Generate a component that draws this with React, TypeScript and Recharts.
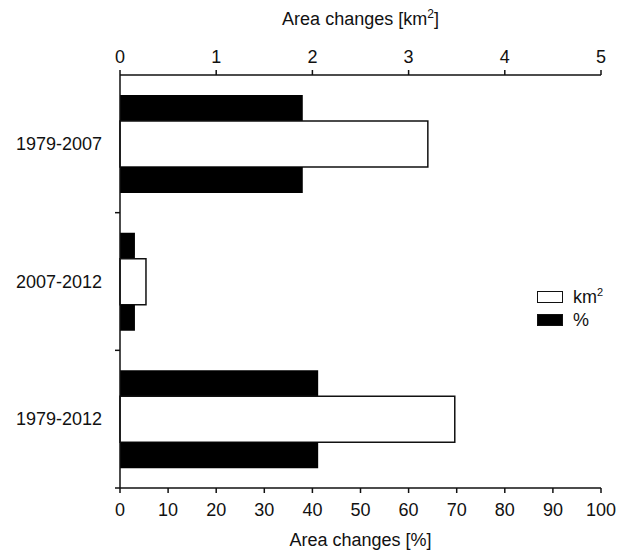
import React from "react";
import { BarChart, Bar, XAxis, YAxis } from "recharts";

const periods = ["1979-2007", "2007-2012", "1979-2012"];
const pctChange = [38, 3.1, 41.2];
const kmChange = [3.2, 0.27, 3.48];
const pctTicks = [0, 10, 20, 30, 40, 50, 60, 70, 80, 90, 100];
const kmTicks = [0, 1, 2, 3, 4, 5];

// the % bar is drawn on both sides of the km² bar, so it needs two keys
const data = periods.map((p, i) => ({
  period: p,
  pctTop: pctChange[i],
  km: kmChange[i],
  pctBottom: pctChange[i],
}));

const FONT = 'Arial, "Liberation Sans", Helvetica, sans-serif';
const INK = "#111";

function PeriodTick(props: any) {
  const { x, y, payload } = props;
  const off = payload.offset ?? 0;
  return (
    <g>
      <text x={x} y={y} dy={6} textAnchor="end" fontSize={18} fill={INK} fontFamily={FONT}>
        {payload.value}
      </text>
      {/* tick sits on the band boundary, not the label */}
      <line x1={x + 13} x2={x + 18} y1={y + off} y2={y + off} stroke={INK} strokeWidth={1.5} />
    </g>
  );
}

function TopTitle(props: any) {
  const vb = props.viewBox;
  return (
    <text x={vb.x + vb.width / 2} y={vb.y + 25} textAnchor="middle" fontSize={18} fill={INK} fontFamily={FONT}>
      <tspan>Area changes [km</tspan>
      <tspan dy={-7} fontSize={12}>2</tspan>
      <tspan dy={7}>]</tspan>
    </text>
  );
}

function BottomTitle(props: any) {
  const vb = props.viewBox;
  return (
    <text x={vb.x + vb.width / 2} y={vb.y + 58} textAnchor="middle" fontSize={18} fill={INK} fontFamily={FONT}>
      Area changes [%]
    </text>
  );
}

function LegendBox() {
  const row = { display: "flex", alignItems: "center", height: 23 } as React.CSSProperties;
  const box = { width: 24, height: 10, border: "1.5px solid #111", marginRight: 10 } as React.CSSProperties;
  return (
    <div style={{ position: "absolute", left: 537, top: 285, fontFamily: FONT, fontSize: 18, color: INK, lineHeight: 1 }}>
      <div style={row}>
        <div style={{ ...box, background: "#fff" }} />
        <span>
          km<sup style={{ fontSize: 11 }}>2</sup>
        </span>
      </div>
      <div style={row}>
        <div style={{ ...box, background: "#000" }} />
        <span>%</span>
      </div>
    </div>
  );
}

export default function App() {
  return (
    <div style={{ position: "absolute", left: 0, top: 0, width: 629, height: 554, background: "#fff" }}>
      <BarChart
        width={629}
        height={554}
        data={data}
        layout="vertical"
        barGap={0}
        margin={{ top: 0, right: 28, bottom: 0, left: 0 }}
        style={{ fontFamily: FONT }}
      >
        <XAxis
          xAxisId="km"
          orientation="top"
          type="number"
          domain={[0, 5]}
          ticks={kmTicks}
          height={75}
          tickSize={5}
          tickMargin={7}
          stroke={INK}
          strokeWidth={1.5}
          tick={{ fontSize: 18, fill: INK }}
          label={<TopTitle />}
        />
        <XAxis
          xAxisId="pct"
          orientation="bottom"
          type="number"
          domain={[0, 100]}
          ticks={pctTicks}
          height={66}
          tickSize={5}
          tickMargin={10}
          stroke={INK}
          strokeWidth={1.5}
          tick={{ fontSize: 18, fill: INK }}
          label={<BottomTitle />}
        />
        <YAxis
          type="category"
          dataKey="period"
          width={120}
          tickSize={5}
          tickMargin={13}
          tickLine={false}
          stroke={INK}
          strokeWidth={1.5}
          tick={<PeriodTick />}
        />
        <Bar xAxisId="pct" dataKey="pctTop" barSize={26} fill="#000" isAnimationActive={false} />
        <Bar
          xAxisId="km"
          dataKey="km"
          barSize={46}
          fill="#fff"
          stroke="#111"
          strokeWidth={1.5}
          isAnimationActive={false}
        />
        <Bar xAxisId="pct" dataKey="pctBottom" barSize={26} fill="#000" isAnimationActive={false} />
      </BarChart>
      <LegendBox />
    </div>
  );
}
